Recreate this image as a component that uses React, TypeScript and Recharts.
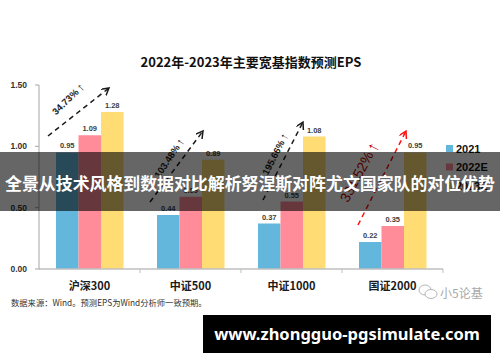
import React from 'react';
import { BarChart, Bar, XAxis, YAxis, LabelList } from 'recharts';

const categories = ['沪深300', '中证500', '中证1000', '国证2000'];
const eps2021 = [0.95, 0.44, 0.37, 0.22];
const eps2022E = [1.09, 0.59, 0.55, 0.35];
const eps2023E = [1.28, 0.89, 1.08, 0.95];
const growthLabels = ['34.73%', '103.48%', '195.66%', '331.52%'];
const seriesNames = ['2021', '2022E', '2023E'];
const yTicks = [0, 0.5, 1.0, 1.5];

const title = '2022年-2023年主要宽基指数预测EPS';
const sourceNote = '数据来源：Wind。预测EPS为Wind分析师一致预期。';
const bannerText = '全景从技术风格到数据对比解析努涅斯对阵尤文国家队的对位优势';
const urlText = 'www.zhongguo-pgsimulate.com';
const watermark = '小5论基';

const COLORS = ['#63b6dc', '#ff8c98', '#ffdc74'];
const KEYS = ['y2021', 'y2022E', 'y2023E'];

const data = categories.map((name, i) => ({
  name,
  y2021: eps2021[i],
  y2022E: eps2022E[i],
  y2023E: eps2023E[i],
}));

// annotation layout (style only)
const annoLayout = [
  { line: [48, 136, 109, 88], cx: 68, cy: 99, angle: -44, size: 9.5, color: '#1a1a1a', stroke: '#1a1a1a', weight: 'bold' },
  { line: [150, 202, 203, 131], cx: 169, cy: 158, angle: -56, size: 9.5, color: '#1a1a1a', stroke: '#1a1a1a', weight: 'bold' },
  { line: [263, 200, 303, 122], cx: 275, cy: 154, angle: -63, size: 9.5, color: '#1a1a1a', stroke: '#1a1a1a', weight: 'bold' },
  { line: [358, 225, 406, 131], cx: 359, cy: 172, angle: -62, size: 14, color: '#c00000', stroke: '#ff1010', weight: 'normal' },
];

const NUM_FONT = '"Liberation Sans", Arial, "Noto Sans CJK SC", sans-serif';
const CJK_FONT = '"Noto Sans CJK SC", "Liberation Sans", sans-serif';

const CatTick = (props: any) => {
  const { x, y, payload } = props;
  return (
    <g>
      <text
        x={x}
        y={y + 16}
        textAnchor="middle"
        dominantBaseline="central"
        fontSize={11}
        fontWeight="bold"
        fill="#1a1a1a"
        fontFamily={CJK_FONT}
      >
        {payload.value}
      </text>
      <line x1={x + 50.5} x2={x + 50.5} y1={y} y2={y + 4} stroke="#bfbfbf" strokeWidth={1} />
    </g>
  );
};

export default function App() {
  return (
    <div
      style={{
        position: 'absolute',
        left: 0,
        top: 0,
        width: 500,
        height: 362,
        background: '#ffffff',
        overflow: 'hidden',
      }}
    >
      <BarChart
        width={500}
        height={362}
        data={data}
        margin={{ top: 85, right: 57, bottom: 63, left: 0 }}
        barGap={0}
      >
        <XAxis
          dataKey="name"
          height={30}
          interval={0}
          tickSize={0}
          tickMargin={0}
          tickLine={false}
          axisLine={{ stroke: '#bfbfbf', strokeWidth: 1.5 }}
          tick={<CatTick />}
        />
        <YAxis
          width={39}
          domain={[0, 1.5]}
          ticks={yTicks}
          interval={0}
          tickSize={4}
          tickMargin={8}
          tickFormatter={(v: number) => v.toFixed(2)}
          axisLine={{ stroke: '#a6a6a6' }}
          tickLine={{ stroke: '#a6a6a6' }}
          tick={{ fontSize: 8.5, fontWeight: 'bold', fill: '#333', fontFamily: NUM_FONT }}
        />
        {KEYS.map((k, i) => (
          <Bar key={k} dataKey={k} name={seriesNames[i]} fill={COLORS[i]} barSize={22.5} isAnimationActive={false}>
            <LabelList
              dataKey={k}
              position="top"
              offset={4}
              formatter={(v: any) => Number(v).toFixed(2)}
              style={{ fontSize: 7.5, fontWeight: 'bold', fill: '#404040', fontFamily: NUM_FONT }}
            />
          </Bar>
        ))}
      </BarChart>

      <svg
        width={500}
        height={362}
        style={{ position: 'absolute', left: 0, top: 0, pointerEvents: 'none' }}
      >
        <defs>
          <marker id="ahBlack" markerWidth="10" markerHeight="10" refX="7" refY="4" orient="auto" markerUnits="userSpaceOnUse">
            <path d="M0,0 L7,4 L0,8" fill="none" stroke="#1a1a1a" strokeWidth="1.5" />
          </marker>
          <marker id="ahRed" markerWidth="10" markerHeight="10" refX="7" refY="4" orient="auto" markerUnits="userSpaceOnUse">
            <path d="M0,0 L7,4 L0,8" fill="none" stroke="#ff1010" strokeWidth="1.5" />
          </marker>
        </defs>

        <text x={251} y={61} textAnchor="middle" dominantBaseline="central" fontSize={13} fontWeight="bold" fill="#111" fontFamily={CJK_FONT}>
          {title}
        </text>

        {annoLayout.map((a, i) => (
          <g key={i}>
            <line
              x1={a.line[0]}
              y1={a.line[1]}
              x2={a.line[2]}
              y2={a.line[3]}
              stroke={a.stroke}
              strokeWidth={1.5}
              strokeDasharray="5 4"
              markerEnd={i === 3 ? 'url(#ahRed)' : 'url(#ahBlack)'}
            />
            <text
              x={a.cx}
              y={a.cy}
              textAnchor="middle"
              dominantBaseline="central"
              fontSize={a.size}
              fontWeight={a.weight}
              fill={a.color}
              fontFamily={NUM_FONT}
              transform={`rotate(${a.angle}, ${a.cx}, ${a.cy})`}
            >
              {growthLabels[i]}
              <tspan fontWeight="bold" dx={2} fontSize={a.size * 1.2}>↑</tspan>
            </text>
          </g>
        ))}

        {seriesNames.map((s, i) => (
          <g key={s}>
            <rect x={446} y={145 + i * 18.5} width={7} height={7} fill={COLORS[i]} />
            <text x={456} y={148.5 + i * 18.5} dominantBaseline="central" fontSize={11} fontWeight="bold" fill="#111" fontFamily={NUM_FONT}>
              {s}
            </text>
          </g>
        ))}

        <text x={11} y={302} dominantBaseline="central" fontSize={8.3} fill="#333" fontFamily={CJK_FONT}>
          {sourceNote}
        </text>

        <g stroke="#b5b5b5" strokeWidth={1} fill="#fff">
          <ellipse cx={425} cy={290} rx={6} ry={5} />
          <ellipse cx={431} cy={294} rx={6} ry={4.5} />
        </g>
        <text x={440} y={292} dominantBaseline="central" fontSize={12} fill="#a8a8a8" fontFamily={CJK_FONT}>
          {watermark}
        </text>
      </svg>

      <div
        style={{
          position: 'absolute',
          left: 0,
          top: 152,
          width: 500,
          height: 59,
          background: 'rgba(0,0,0,0.6)',
          color: '#fff',
          fontFamily: CJK_FONT,
          fontWeight: 'bold',
          fontSize: 16.9,
          lineHeight: '62px',
          textAlign: 'center',
          whiteSpace: 'nowrap',
        }}
      >
        {bannerText}
      </div>

      <div
        style={{
          position: 'absolute',
          left: 203,
          top: 315,
          width: 288,
          height: 38,
          background: '#000',
          color: '#fff',
          fontFamily: '"Noto Sans", "Open Sans", sans-serif',
          fontWeight: 'bold',
          fontSize: 16.5,
          lineHeight: '38px',
          textAlign: 'center',
          whiteSpace: 'nowrap',
        }}
      >
        {urlText}
      </div>
    </div>
  );
}
